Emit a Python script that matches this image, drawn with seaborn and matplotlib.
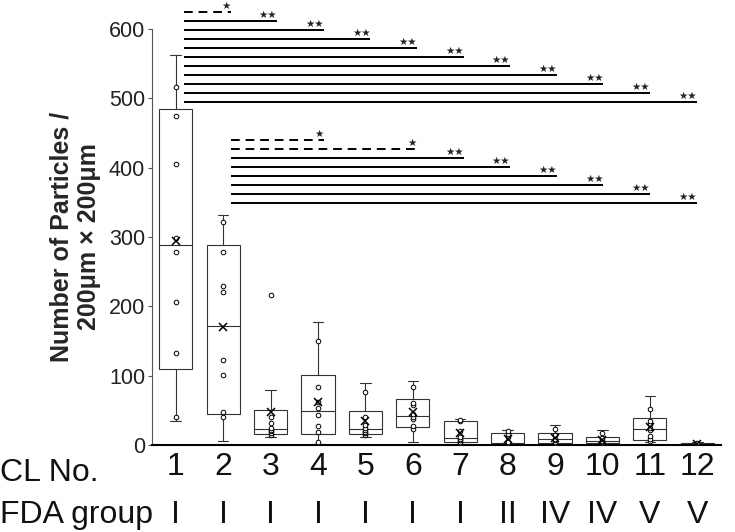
import numpy as np
import pandas as pd
import matplotlib
matplotlib.use("Agg")
import matplotlib.pyplot as plt
import matplotlib.transforms as mtransforms
import seaborn as sns

# CL number and FDA group for each lens
cl_no = ['1', '2', '3', '4', '5', '6', '7', '8', '9', '10', '11', '12']
fda_group = ['I', 'I', 'I', 'I', 'I', 'I', 'I', 'II', 'IV', 'IV', 'V', 'V']

# particle counts per 200um x 200um field
cl1 = [34, 40, 133, 206, 278, 299, 405, 474, 516, 562]
cl2 = [6, 40, 47, 101, 122, 221, 230, 278, 321, 332]
cl3 = [11, 15, 17, 20, 22, 24, 32, 41, 80, 217]
cl4 = [2, 5, 19, 28, 43, 54, 62, 84, 150, 177]
cl5 = [12, 14, 17, 19, 22, 25, 29, 40, 77, 89]
cl6 = [5, 23, 27, 38, 40, 45, 58, 61, 83, 92]
cl7 = [1, 3, 5, 7, 9, 12, 20, 35, 36, 38]
cl8 = [0, 1, 2, 3, 3, 4, 12, 16, 20, 22]
cl9 = [0, 2, 3, 5, 7, 9, 14, 15, 23, 29]
cl10 = [0, 2, 3, 4, 5, 6, 9, 10, 18, 22]
cl11 = [4, 6, 8, 13, 22, 25, 30, 34, 52, 71]
cl12 = [0, 0, 0, 1, 1, 1, 2, 2, 3, 4]
counts = [cl1, cl2, cl3, cl4, cl5, cl6, cl7, cl8, cl9, cl10, cl11, cl12]

# significance brackets: CL 1 vs others, CL 2 vs others
sig1_from = '1'
sig1_to = ['2', '3', '4', '5', '6', '7', '8', '9', '10', '11', '12']
sig1_mark = ['*', '**', '**', '**', '**', '**', '**', '**', '**', '**', '**']
sig2_from = '2'
sig2_to = ['4', '6', '7', '8', '9', '10', '11', '12']
sig2_mark = ['*', '*', '**', '**', '**', '**', '**', '**']

y_ticks = [0, 100, 200, 300, 400, 500, 600]


def excel_stats(vals):
    # Excel style box (exclusive quartiles, 1.5 IQR whiskers)
    v = np.sort(np.asarray(vals, float))
    q1, med, q3 = np.percentile(v, [25, 50, 75], method='weibull')
    iqr = q3 - q1
    inside = v[(v >= q1 - 1.5 * iqr) & (v <= q3 + 1.5 * iqr)]
    return dict(q1=q1, med=med, q3=q3, whislo=inside.min(), whishi=inside.max(),
                mean=v.mean(), fliers=[])


stats = [excel_stats(c) for c in counts]

# Excel shows the inner points and outliers, but not the whisker ends
rows = []
for lab, c, s in zip(cl_no, counts, stats):
    pts = list(c)
    pts.remove(s['whislo'])
    pts.remove(s['whishi'])
    rows += [(lab, p) for p in pts]
df = pd.DataFrame(rows, columns=['CL', 'count'])

sns.set_style('white')
plt.rcParams['font.family'] = ['Liberation Sans', 'DejaVu Sans']

fig = plt.figure(figsize=(7.35, 5.32), dpi=100)
ax = fig.add_axes([152 / 735, 87 / 532, 569 / 735, 416 / 532])

edge = '#333333'
ax.bxp(stats, positions=np.arange(len(cl_no)), widths=0.7, capwidths=0.22,
       showmeans=True, showfliers=False, patch_artist=True, manage_ticks=False,
       boxprops=dict(facecolor='white', edgecolor=edge, linewidth=0.8),
       whiskerprops=dict(color=edge, linewidth=0.8),
       capprops=dict(color=edge, linewidth=0.8),
       medianprops=dict(color=edge, linewidth=0.8),
       meanprops=dict(marker='x', markeredgecolor='black', markersize=6,
                      markeredgewidth=1.1, zorder=5))

sns.stripplot(data=df, x='CL', y='count', order=cl_no, jitter=False,
              color='white', edgecolor='black', linewidth=0.7, size=3.3,
              zorder=4, ax=ax)

ax.set_xlim(-0.5, len(cl_no) - 0.5)
ax.set_ylim(0, 600)
ax.set_yticks(y_ticks)
ax.set_xticks(range(len(cl_no)), labels=cl_no)
ax.set_xlabel('')
ax.set_ylabel('Number of Particles /\n200μm × 200μm', fontsize=18,
              fontweight='bold', linespacing=1.15)
ax.yaxis.label.set_va('center')
ax.yaxis.set_label_coords(-0.135, 0.5)

sns.despine(ax=ax)
ax.spines['left'].set_color('#555555')
ax.spines['left'].set_linewidth(0.8)
ax.spines['bottom'].set_color('black')
ax.spines['bottom'].set_linewidth(1.5)
ax.tick_params(axis='y', labelsize=15.5, length=3, width=0.8, color='#555555',
               pad=2, labelcolor='#222222', left=True)
ax.tick_params(axis='x', labelsize=23, length=0, pad=5, labelcolor='#111111')


# significance lines
def bx(label):
    k = cl_no.index(label)
    return 0.173 + 0.983 * k


def draw_group(src, targets, marks, top):
    for i, (t, m) in enumerate(zip(targets, marks)):
        y = top - 13 * i
        x0, x1 = bx(src), bx(t)
        ls = (0, (4.5, 3)) if m == '*' else '-'
        ax.plot([x0, x1], [y, y], color='black', lw=1.4, ls=ls,
                clip_on=False, solid_capstyle='butt', zorder=3)
        ax.text(x1, y + 1.5, '★' * len(m), ha='right', va='bottom',
                fontsize=7.5, family='DejaVu Sans', color='#222222', clip_on=False)


draw_group(sig1_from, sig1_to, sig1_mark, 624.5)
draw_group(sig2_from, sig2_to, sig2_mark, 439.5)

# row headers and FDA group row
row_tr = mtransforms.blended_transform_factory(fig.transFigure, ax.transAxes)
data_tr = mtransforms.blended_transform_factory(ax.transData, ax.transAxes)
ax.text(0.0, -(481 - 445) / 416, 'CL No.', transform=row_tr, ha='left',
        va='baseline', fontsize=23, color='#111111')
ax.text(0.0, -(523 - 445) / 416, 'FDA group', transform=row_tr, ha='left',
        va='baseline', fontsize=23, color='#111111')
for k, g in enumerate(fda_group):
    ax.text(k, -(523 - 445) / 416, g, transform=data_tr, ha='center',
            va='baseline', fontsize=23, color='#111111')

fig.savefig('out.png', dpi=100)
